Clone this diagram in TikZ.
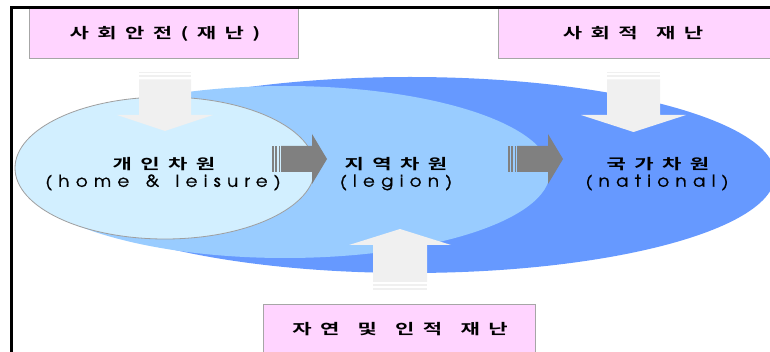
\documentclass[tikz,border=0pt]{standalone}
\usepackage{fontspec}
\usepackage{graphicx}
\usetikzlibrary{shapes.geometric}
\newfontfamily\krfont[LetterSpace=40]{Noto Sans CJK KR Bold}
\newfontfamily\latfont[LetterSpace=35,FakeBold=1]{TeX Gyre Adventor}
\definecolor{natblue}{RGB}{102,153,255}
\definecolor{regblue}{RGB}{153,204,255}
\definecolor{homeblue}{RGB}{210,239,255}
\definecolor{pinkbox}{RGB}{255,212,255}
\definecolor{arrowlight}{RGB}{240,240,240}
\definecolor{arrowgray}{RGB}{128,128,128}
\newcommand\krtext[1]{\scalebox{1.45}[1]{\krfont #1}}
\newcommand\lattext[1]{\scalebox{1.1}[1]{\latfont #1}}
\newcommand\wsp{\hspace{3.5pt} }
\newcommand\lsp{\hspace{4.5pt} }
\tikzset{
  zone/.style={ellipse, inner sep=0pt},
  pinkrect/.style={fill=pinkbox, draw=gray!70, line width=0.6pt},
  lightarrow/.style={fill=arrowlight},
  grayarrow/.style={fill=arrowgray},
  krlabel/.style={inner sep=0pt, font=\fontsize{14.5}{16}\selectfont},
  latlabel/.style={inner sep=0pt, font=\fontsize{16.5}{18}\selectfont},
}
\begin{document}
\begin{tikzpicture}[x=1pt,y=-1pt]
\useasboundingbox (0,0) rectangle (770,352);
\clip (0,0) rectangle (770,352);
\fill[white] (0,0) rectangle (770,352);
% zones
\node[zone, fill=natblue, minimum width=730pt, minimum height=196pt] (natE) at (410,175) {};
\node[zone, fill=regblue, minimum width=530pt, minimum height=172pt] (regE) at (285,172) {};
\node[zone, fill=homeblue, draw=gray!75, line width=0.8pt, minimum width=300pt, minimum height=142pt] (homeE) at (165,168) {};
% pink boxes
\draw[pinkrect] (29,8) rectangle (298,58);
\draw[pinkrect] (498,8) rectangle (774,58);
\draw[pinkrect] (263,304) rectangle (535,356);
\node[krlabel] (b1) at (165,33.5) {\krtext{사회안전(재난)}};
\node[krlabel] (b2) at (633,33.5) {\krtext{사회적\wsp 재난}};
\node[krlabel] (b3) at (400,329) {\krtext{자연\wsp 및\wsp 인적\wsp 재난}};
% frame
\draw[line width=3pt] (11.5,356) -- (11.5,7.5) -- (774,7.5);
% light down arrow (left)
\fill[lightarrow] (139,79.5) -- (191,79.5) -- (191,115) -- (213,115) -- (165,131) -- (117,115) -- (139,115) -- cycle;
\fill[lightarrow] (139,72) rectangle (191,73.5);
\fill[lightarrow] (139,75.5) rectangle (191,77.5);
% light down arrow (right)
\fill[lightarrow] (607,79.5) -- (660,79.5) -- (660,115) -- (686,115) -- (633.5,132) -- (581,115) -- (607,115) -- cycle;
\fill[lightarrow] (607,72) rectangle (660,73.5);
\fill[lightarrow] (607,75.5) rectangle (660,77.5);
% light up arrow (bottom)
\fill[lightarrow] (373,282) -- (427,282) -- (427,245) -- (451,245) -- (400,229) -- (349,245) -- (373,245) -- cycle;
\fill[lightarrow] (373,284) rectangle (427,286);
\fill[lightarrow] (373,288) rectangle (427,290);
% gray arrows
\fill[grayarrow] (281,146) -- (312,146) -- (312,134) -- (327,159) -- (312,184) -- (312,172) -- (281,172) -- cycle;
\fill[grayarrow] (272,146) rectangle (273.6,172);
\fill[grayarrow] (275.4,146) rectangle (277,172);
\fill[grayarrow] (278.6,146) rectangle (280,172);
\fill[grayarrow] (517,146) -- (548,146) -- (548,134) -- (563,159) -- (548,184) -- (548,172) -- (517,172) -- cycle;
\fill[grayarrow] (508,146) rectangle (509.6,172);
\fill[grayarrow] (511.4,146) rectangle (513,172);
\fill[grayarrow] (514.6,146) rectangle (516,172);
% labels
\node[krlabel] (h1) at (164,164.5) {\krtext{개인차원}};
\node[latlabel] (h2) at (163,182.5) {\lattext{(home\lsp \&\lsp leisure)}};
\node[krlabel] (r1) at (396,164.5) {\krtext{지역차원}};
\node[latlabel] (r2) at (396,182.5) {\lattext{(legion)}};
\node[krlabel] (n1) at (658,164.5) {\krtext{국가차원}};
\node[latlabel] (n2) at (657,182.5) {\lattext{(national)}};
\end{tikzpicture}
\end{document}
